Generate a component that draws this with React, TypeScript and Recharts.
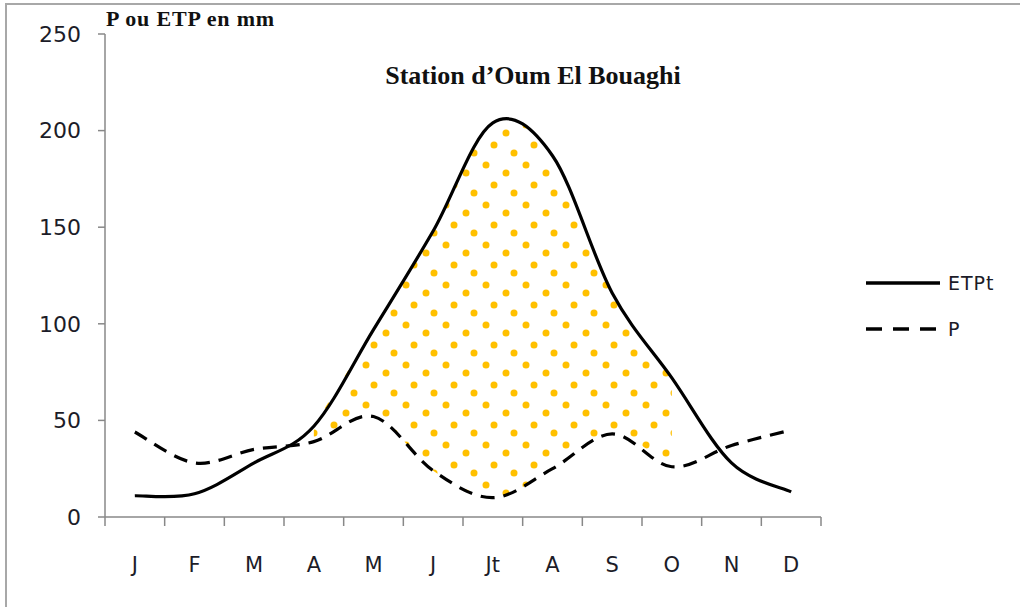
import React from 'react';
import { ComposedChart, Line, Area, XAxis, YAxis, Legend } from 'recharts';

const months = ['J', 'F', 'M', 'A', 'M', 'J', 'Jt', 'A', 'S', 'O', 'N', 'D'];
const etpValues = [11, 12, 28, 47, 97, 148, 204, 187, 116, 72, 28, 13];
const pValues = [44, 28, 35, 39, 52, 24, 10, 25, 43, 26, 37, 45];
const yTicks = [0, 50, 100, 150, 200, 250];
// months where ETPt is above P (deficit area, dotted)
const deficitFrom = 3;
const deficitTo = 9;

const data = months.map((m, i) => ({
  key: `${m}-${i}`,
  m,
  etp: etpValues[i],
  p: pValues[i],
  deficit: i >= deficitFrom && i <= deficitTo ? [pValues[i], etpValues[i]] : null,
}));

const PLOT_LEFT = 105;
const PLOT_RIGHT = 821;
const STEP = (PLOT_RIGHT - PLOT_LEFT) / months.length;
const AXIS_COLOR = '#888888';
const TEXT_COLOR = '#1c1c28';

// Excel-like smoothed line (Catmull-Rom bezier)
const excelSmooth = (context: any) => {
  let line = NaN;
  let pts: number[][] = [];
  return {
    areaStart() { line = 0; },
    areaEnd() { line = NaN; },
    lineStart() { pts = []; },
    lineEnd() {
      const n = pts.length;
      if (n) {
        if (line) context.lineTo(pts[0][0], pts[0][1]);
        else context.moveTo(pts[0][0], pts[0][1]);
        for (let i = 0; i < n - 1; i++) {
          const p0 = pts[Math.max(i - 1, 0)];
          const p1 = pts[i];
          const p2 = pts[i + 1];
          const p3 = pts[Math.min(i + 2, n - 1)];
          context.bezierCurveTo(
            p1[0] + (p2[0] - p0[0]) / 6, p1[1] + (p2[1] - p0[1]) / 6,
            p2[0] - (p3[0] - p1[0]) / 6, p2[1] - (p3[1] - p1[1]) / 6,
            p2[0], p2[1],
          );
        }
      }
      if (line || (line !== 0 && n === 1)) context.closePath();
      line = 1 - line;
    },
    point(x: number, y: number) { pts.push([+x, +y]); },
  };
};

const MonthTick: React.FC<any> = ({ x, y, payload, index }) => {
  const last = index === months.length - 1;
  return (
    <g>
      <line x1={x - STEP / 2} x2={x - STEP / 2} y1={y} y2={y + 9} stroke={AXIS_COLOR} strokeWidth={1.5} />
      {last && <line x1={x + STEP / 2} x2={x + STEP / 2} y1={y} y2={y + 9} stroke={AXIS_COLOR} strokeWidth={1.5} />}
      <text x={x} y={y + 48} dy="0.355em" textAnchor="middle" fill={TEXT_COLOR}
        style={{ fontFamily: 'DejaVu Sans', fontSize: 21 }}>
        {payload.value}
      </text>
    </g>
  );
};

const LegendContent: React.FC<any> = ({ payload }) => {
  const items = (payload || []).filter((p: any) => p.dataKey === 'etp' || p.dataKey === 'p');
  return (
    <div>
      {items.map((item: any) => (
        <div key={item.dataKey} style={{ display: 'flex', alignItems: 'center', height: 46 }}>
          <svg width={74} height={10}>
            <line x1={0} x2={74} y1={5} y2={5} stroke="#000" strokeWidth={3.5}
              strokeDasharray={item.dataKey === 'p' ? '16 11' : undefined} />
          </svg>
          <span style={{ marginLeft: 8, fontFamily: 'DejaVu Sans', fontSize: 19, letterSpacing: 1, color: TEXT_COLOR }}>
            {item.value}
          </span>
        </div>
      ))}
    </div>
  );
};

export default function App() {
  return (
    <div style={{ position: 'absolute', left: 0, top: 0, width: 1020, height: 607, overflow: 'hidden', background: '#fff' }}>
      <div style={{ position: 'absolute', left: 5, top: 3, width: 1040, height: 640, borderTop: '2.5px solid #a8a8a8', borderLeft: '2.5px solid #a8a8a8' }} />
      <div style={{ position: 'absolute', left: 106, top: 6, fontFamily: 'Liberation Serif', fontWeight: 'bold', fontSize: 22, letterSpacing: 0.8, color: '#111', whiteSpace: 'nowrap' }}>
        P ou ETP en mm
      </div>
      <div style={{ position: 'absolute', left: 283, width: 500, top: 61, textAlign: 'center', fontFamily: 'Liberation Serif', fontWeight: 'bold', fontSize: 26, color: '#111' }}>
        Station d’Oum El Bouaghi
      </div>
      <div style={{ position: 'absolute', left: 0, top: 0 }}>
        <ComposedChart width={1020} height={607} data={data} margin={{ top: 34, right: 1020 - PLOT_RIGHT, bottom: 30, left: 0 }}>
          <defs>
            <pattern id="dots" patternUnits="userSpaceOnUse" width={40} height={40}>
              <circle cx={6} cy={5} r={3.5} fill="#FFC000" />
              <circle cx={26} cy={13} r={3.5} fill="#FFC000" />
              <circle cx={14} cy={25} r={3.5} fill="#FFC000" />
              <circle cx={34} cy={33} r={3.5} fill="#FFC000" />
            </pattern>
          </defs>
          <XAxis dataKey="key" scale="point" padding={{ left: STEP / 2, right: STEP / 2 }}
            axisLine={{ stroke: AXIS_COLOR, strokeWidth: 1.5 }} tickLine={false} tickSize={0} tickMargin={0}
            height={60} interval={0}
            tick={(props: any) => <MonthTick {...props} payload={{ ...props.payload, value: data[props.index].m }} />} />
          <YAxis domain={[0, 250]} ticks={yTicks} width={PLOT_LEFT} tickSize={7} tickMargin={17}
            axisLine={{ stroke: AXIS_COLOR, strokeWidth: 1.5 }} tickLine={{ stroke: AXIS_COLOR, strokeWidth: 1.5 }}
            tick={{ fill: TEXT_COLOR, fontFamily: 'DejaVu Sans', fontSize: 22 }} />
          <Area dataKey="deficit" type={excelSmooth as any} stroke="none" fill="url(#dots)" fillOpacity={1}
            legendType="none" isAnimationActive={false} connectNulls={false} />
          <Line dataKey="etp" name="ETPt" type={excelSmooth as any} stroke="#000" strokeWidth={3.2} dot={false}
            activeDot={false} isAnimationActive={false} />
          <Line dataKey="p" name="P" type={excelSmooth as any} stroke="#000" strokeWidth={3.2} strokeDasharray="14 9"
            dot={false} activeDot={false} isAnimationActive={false} />
          <Legend layout="vertical" align="center" verticalAlign="middle" content={<LegendContent />}
            wrapperStyle={{ left: 866, top: 260, width: 150 }} />
        </ComposedChart>
      </div>
    </div>
  );
}
